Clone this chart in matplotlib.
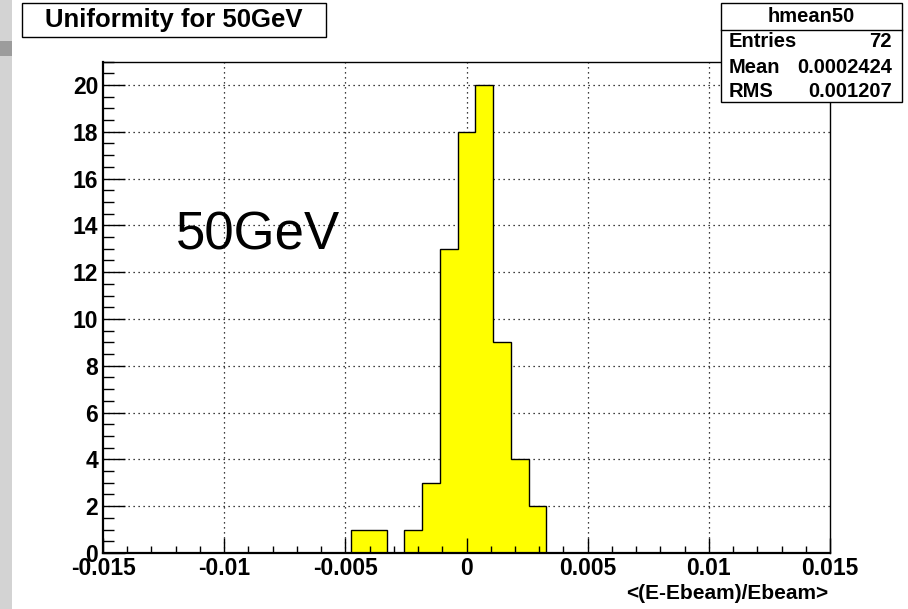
import matplotlib
matplotlib.use("Agg")
import matplotlib.pyplot as plt
from matplotlib.patches import Rectangle
from matplotlib.ticker import MultipleLocator, FixedLocator
from matplotlib.lines import Line2D

plt.rcParams['font.family'] = ['Liberation Sans', 'DejaVu Sans']

# ---- data ----
bin_edges = [-0.004756, -0.004024, -0.003293, -0.002561, -0.001829, -0.001098,
             -0.000366, 0.000366, 0.001098, 0.001829, 0.002561, 0.003293]
counts = [1, 1, 0, 1, 3, 13, 18, 20, 9, 4, 2]
x_ticks = [-0.015, -0.01, -0.005, 0, 0.005, 0.01, 0.015]
x_tick_labels = ["-0.015", "-0.01", "-0.005", "0", "0.005", "0.01", "0.015"]
y_ticks = [0, 2, 4, 6, 8, 10, 12, 14, 16, 18, 20]
title = "Uniformity for 50GeV"
x_label = "<(E-Ebeam)/Ebeam>"
annotation = "50GeV"
stats_name = "hmean50"
stats_rows = [("Entries", "72"), ("Mean", "0.0002424"), ("RMS", "0.001207")]

W, H = 908, 609
fig = plt.figure(figsize=(W / 100, H / 100), dpi=100)
fig.patch.set_facecolor('white')


def fx(x):
    return x / W


def fy(y):
    return 1 - y / H


# left gray strip
fig.patches.append(Rectangle((0, 0), fx(12), 1, transform=fig.transFigure,
                             facecolor='#d3d3d3', edgecolor='none', zorder=0))
fig.patches.append(Rectangle((0, fy(56)), fx(12), fy(41) - fy(56), transform=fig.transFigure,
                             facecolor='#9c9c9c', edgecolor='none', zorder=0))

ax_left, ax_right, ax_top, ax_bot = 103, 830, 61.5, 553
ax = fig.add_axes([fx(ax_left), fy(ax_bot), fx(ax_right) - fx(ax_left), fy(ax_top) - fy(ax_bot)])
ax.set_xlim(-0.015, 0.015)
ax.set_ylim(0, 21)

# grid (below bars)
for xt in x_ticks[1:-1]:
    ax.axvline(xt, color='black', lw=0.9, ls=(0, (1, 3)), zorder=0.5)
for yt in y_ticks[1:]:
    ax.axhline(yt, color='black', lw=0.9, ls=(0, (1, 3)), zorder=0.5)

ax.stairs(counts, bin_edges, fill=True, color='#ffff00', zorder=1)
ax.stairs(counts, bin_edges, baseline=0, color='black', lw=1.0, zorder=1.5)

ax.xaxis.set_major_locator(FixedLocator(x_ticks))
ax.set_xticklabels(x_tick_labels)
ax.xaxis.set_minor_locator(MultipleLocator(0.001))
ax.yaxis.set_major_locator(FixedLocator(y_ticks))
ax.yaxis.set_minor_locator(MultipleLocator(0.5))

ax.tick_params(axis='both', which='both', direction='in', top=False, right=False, width=1.0, color='black')
ax.tick_params(axis='x', which='major', length=10.5, pad=3, labelsize=16.5)
ax.tick_params(axis='x', which='minor', length=5)
ax.tick_params(axis='y', which='major', length=16, pad=3.5, labelsize=16.5)
ax.tick_params(axis='y', which='minor', length=8)
for lab in ax.get_xticklabels() + ax.get_yticklabels():
    lab.set_fontweight('bold')

for s in ['left', 'bottom']:
    ax.spines[s].set_linewidth(1.6)
for s in ['top', 'right']:
    ax.spines[s].set_linewidth(1.0)

# axis label
fig.text(fx(828), fy(599), x_label, ha='right', va='baseline', fontsize=15, fontweight='bold')

# big annotation
fig.text(fx(176), fy(249), annotation, ha='left', va='baseline', fontsize=38)

# title box
tb = Rectangle((fx(21.7), fy(36.7)), fx(326) - fx(21.7), fy(3.3) - fy(36.7), transform=fig.transFigure,
               facecolor='white', edgecolor='black', lw=1.0, zorder=5)
fig.patches.append(tb)
fig.text(fx(174), fy(20), title, ha='center', va='center', fontsize=18.5, fontweight='bold', zorder=6)

# stats box
sx0, sx1, sy0, sy1 = 720.5, 901.7, 3.3, 102
sb = Rectangle((fx(sx0), fy(sy1)), fx(sx1) - fx(sx0), fy(sy0) - fy(sy1), transform=fig.transFigure,
               facecolor='white', edgecolor='black', lw=1.0, zorder=5)
fig.patches.append(sb)
fig.lines.append(Line2D([fx(sx0), fx(sx1)], [fy(30), fy(30)], transform=fig.transFigure,
                        color='black', lw=1.0, zorder=6))
fig.text(fx((sx0 + sx1) / 2), fy(22), stats_name, ha='center', va='baseline', fontsize=14.5,
         fontweight='bold', zorder=7)
row_base = [47, 73, 97]
for (name, val), yb in zip(stats_rows, row_base):
    fig.text(fx(729), fy(yb), name, ha='left', va='baseline', fontsize=14.5, fontweight='bold', zorder=7)
    fig.text(fx(892), fy(yb), val, ha='right', va='baseline', fontsize=14.5, fontweight='bold', zorder=7)

fig.savefig('out.png', dpi=100)
